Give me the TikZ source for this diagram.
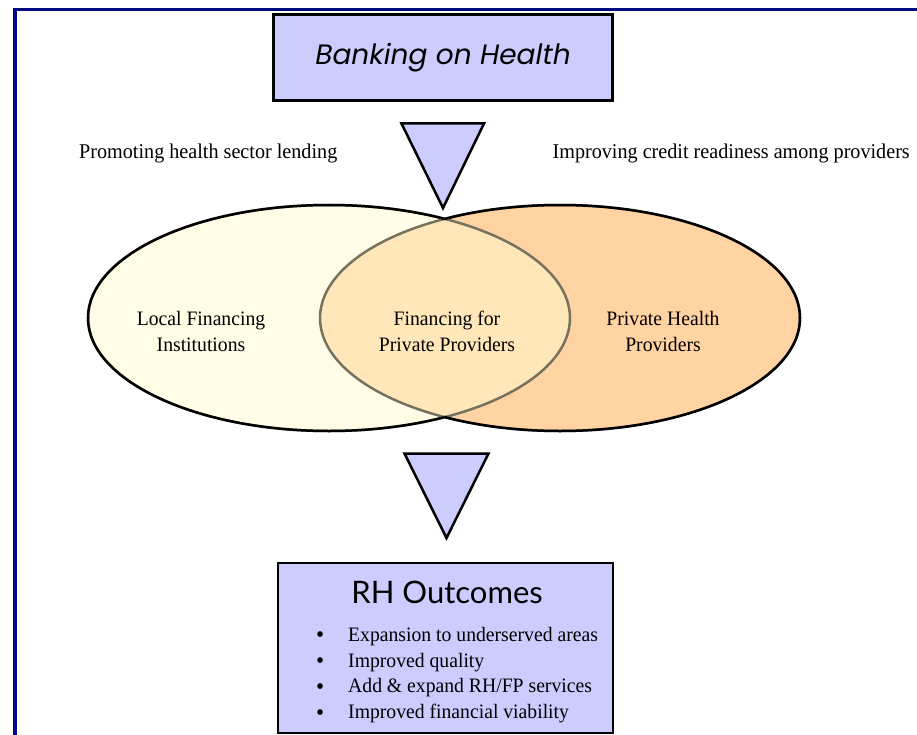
\documentclass[tikz,border=0pt]{standalone}
\usepackage{fontspec}
\setmainfont[FakeStretch=0.96]{Liberation Serif}
\newfontfamily\bannerfont{Poppins}
\newfontfamily\outcomefont{Lato}
\usetikzlibrary{positioning}

\definecolor{lavender}{HTML}{CCCCFF}
\definecolor{framenavy}{HTML}{000A80}
\definecolor{lenderfill}{HTML}{FFFDE6}
\definecolor{providerfill}{HTML}{FFD3A2}
\definecolor{overlapfill}{HTML}{FFE7B9}
\definecolor{innerarc}{HTML}{77725F}

\newcommand{\outbullet}{\makebox[32pt][l]{\raisebox{-1.5pt}{\fontsize{24}{24}\selectfont\textbullet}}}

\tikzset{
  titlebox/.style={draw=black, line width=3pt, fill=lavender, inner sep=0pt},
  pointer/.style={draw=black, line width=2.5pt, fill=lavender, line join=miter},
  sidetext/.style={font=\fontsize{21}{24}\selectfont, inner sep=0pt},
  venntext/.style={font=\fontsize{20.5}{26}\selectfont, align=center, inner sep=0pt},
}

\begin{document}
\begin{tikzpicture}[x=1pt,y=-1pt]
    \useasboundingbox (0,0) rectangle (917,735);

    % FRAME
    \draw[framenavy, line width=3.5pt] (15,735) -- (15,9.5) -- (917,9.5);

    % TOP BOX
    \node[titlebox,
      minimum width=339pt,
    minimum height=86pt] (BANKING) at (443,57.5)
    {\bannerfont\itshape\fontsize{28}{32}\selectfont Banking on Health};

    % SIDE TEXTS
    \node[sidetext, anchor=base west] (LENDING) at (79,159)
    {Promoting health sector lending};
    \node[sidetext, anchor=base east] (READINESS) at (910,159)
    {Improving credit readiness among providers};

    % FIRST POINTER
    \draw[pointer] (401.5,123.5) -- (484,123.5) -- (443,208) -- cycle;

    % ELLIPSES
    \fill[lenderfill] (329,318) ellipse [x radius=241pt, y radius=113pt];
    \fill[providerfill] (560,318) ellipse [x radius=240pt, y radius=113pt];
    \begin{scope}
      \clip (329,318) ellipse [x radius=241pt, y radius=113pt];
      \fill[overlapfill] (560,318) ellipse [x radius=240pt, y radius=113pt];
    \end{scope}
    \draw[innerarc, line width=2.5pt] (329,318) ellipse [x radius=241pt, y radius=113pt];
    \draw[innerarc, line width=2.5pt] (560,318) ellipse [x radius=240pt, y radius=113pt];
    \begin{scope}
      \clip (0,0) rectangle (444.7,735);
      \draw[black, line width=2.5pt] (329,318) ellipse [x radius=241pt, y radius=113pt];
    \end{scope}
    \begin{scope}
      \clip (444.7,0) rectangle (917,735);
      \draw[black, line width=2.5pt] (560,318) ellipse [x radius=240pt, y radius=113pt];
    \end{scope}

    \node[venntext] (LENDERS) at (201,331)
    {Local Financing\\Institutions};
    \node[venntext] (OVERLAP) at (447,331)
    {Financing for\\Private Providers};
    \node[venntext] (PROVIDERS) at (663,331)
    {Private Health\\Providers};

    % SECOND POINTER
    \draw[pointer] (404.5,453.5) -- (488.5,453.5) -- (446.5,538) -- cycle;

    % BOTTOM BOX
    \node[titlebox,
      line width=2.5pt,
      minimum width=335pt,
    minimum height=170pt] (OUTCOMES) at (445.5,648) {};
    \node[anchor=base, inner sep=0pt] (OUTTITLE) at (447,603)
    {\outcomefont\fontsize{31}{34}\selectfont RH Outcomes};
    \node[anchor=north west, inner sep=0pt, align=left,
      font=\fontsize{20.5}{25.7}\selectfont] (OUTLIST) at (316,627)
    {
      \outbullet Expansion to underserved areas\\
      \outbullet Improved quality\\
      \outbullet Add \& expand RH/FP services\\
      \outbullet Improved financial viability
    };
\end{tikzpicture}
\end{document}
